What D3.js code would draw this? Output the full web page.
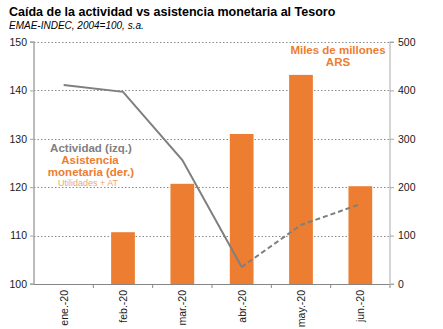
<!DOCTYPE html>
<html><head><meta charset="utf-8">
<script src="https://cdn.jsdelivr.net/npm/d3@7"></script>
<style>body{margin:0;background:#fff}svg{display:block}</style>
</head><body><svg id="c" width="443" height="329"></svg>
<script>
const months = ["ene.-20","feb.-20","mar.-20","abr.-20","may.-20","jun.-20"];
const asistencia = [0,107,207,310,432,202];
const actividad = [141.1,139.7,125.6,103.5,112.2,116.5];
const leftTicks = [100,110,120,130,140,150];
const rightTicks = [0,100,200,300,400,500];

const svg = d3.select("#c");
const L=34,R=390,T=42,B=284;
const font="'Liberation Sans', Arial, sans-serif";
const xb = d3.scaleBand().domain(months).range([L,R]);
const yL = d3.scaleLinear().domain([100,150]).range([B,T]);
const yR = d3.scaleLinear().domain([0,500]).range([B,T]);
const orange="#ED7D31", grey="#7F7F7F";

// gridlines
svg.append("g").selectAll("line").data(leftTicks.filter(d=>d>100)).join("line")
  .attr("x1",L).attr("x2",R).attr("y1",d=>Math.round(yL(d))+0.5).attr("y2",d=>Math.round(yL(d))+0.5)
  .attr("stroke","#8a8a8a").attr("stroke-width",1).attr("stroke-dasharray","1.5,2");

// bars
svg.append("g").selectAll("rect").data(months.map((m,i)=>({m,v:asistencia[i]})).filter(d=>d.v>0)).join("rect")
  .attr("x",d=>xb(d.m)+xb.bandwidth()*0.3).attr("width",xb.bandwidth()*0.4)
  .attr("y",d=>yR(d.v)).attr("height",d=>B-yR(d.v)).attr("fill",orange);

// baseline
svg.append("line").attr("x1",L).attr("x2",R).attr("y1",B+0.5).attr("y2",B+0.5).attr("stroke","#868686");
// x ticks
svg.append("g").selectAll("line").data(months).join("line")
  .attr("x1",(d,i)=>L+xb.step()*(i+1)).attr("x2",(d,i)=>L+xb.step()*(i+1))
  .attr("y1",B).attr("y2",B+4).attr("stroke","#868686");

// line
const pts = months.map((m,i)=>[xb(m)+xb.bandwidth()/2, yL(actividad[i])]);
const lg = d3.line();
svg.append("path").attr("d",lg(pts.slice(0,4))).attr("fill","none").attr("stroke",grey).attr("stroke-width",2);
svg.append("path").attr("d",lg(pts.slice(3))).attr("fill","none").attr("stroke",grey).attr("stroke-width",2).attr("stroke-dasharray","5,3");

// axes
const aL = svg.append("g").attr("transform",`translate(${L},0)`)
  .call(d3.axisLeft(yL).tickValues(leftTicks).tickSize(4).tickPadding(3));
const aR = svg.append("g").attr("transform",`translate(${R},0)`)
  .call(d3.axisRight(yR).tickValues(rightTicks).tickSize(4).tickPadding(4));
aL.select(".domain").attr("stroke","#a6a6a6").attr("stroke-width",1.5).attr("d",`M-4,${T}H0V${B}H-4`);
aR.select(".domain").attr("stroke","#c8c8c8").attr("stroke-width",1.5).attr("d",`M4,${T}H0V${B}H4`);
[aL,aR].forEach(a=>{a.selectAll(".tick line").attr("stroke","#a6a6a6");
  a.selectAll("text").attr("font-family",font).attr("font-size",10.5).attr("fill","#1a1a1a");});

// x labels
svg.append("g").selectAll("text").data(months).join("text")
  .attr("transform",d=>`translate(${xb(d)+xb.bandwidth()/2+4},${B+6}) rotate(-90)`)
  .attr("text-anchor","end").attr("font-family",font).attr("font-size",10.5).attr("fill","#1a1a1a").text(d=>d);

// title
svg.append("text").attr("x",9).attr("y",16).attr("font-family",font).attr("font-size",12.5).attr("font-weight","bold").attr("fill","#000")
  .text("Caída de la actividad vs asistencia monetaria  al Tesoro");
svg.append("text").attr("x",9).attr("y",29).attr("font-family",font).attr("font-size",10).attr("font-style","italic").attr("fill","#000")
  .text("EMAE-INDEC, 2004=100, s.a.");

// legend texts
const lt=[["Actividad (izq.)",91,152,grey,11.5,"bold"],["Asistencia",90,164,orange,11.5,"bold"],["monetaria (der.)",91,176,orange,11.5,"bold"],["Utilidades + AT",88,186,"#F2A470",9,"normal"],
["Miles de millones",338,54,orange,11.5,"bold"],["ARS",338,66,orange,11.5,"bold"]];
svg.append("g").selectAll("text").data(lt).join("text")
  .attr("x",d=>d[1]).attr("y",d=>d[2]).attr("text-anchor","middle").attr("fill",d=>d[3])
  .attr("font-size",d=>d[4]).attr("font-weight",d=>d[5]).attr("font-family",font).text(d=>d[0]);
</script></body></html>
